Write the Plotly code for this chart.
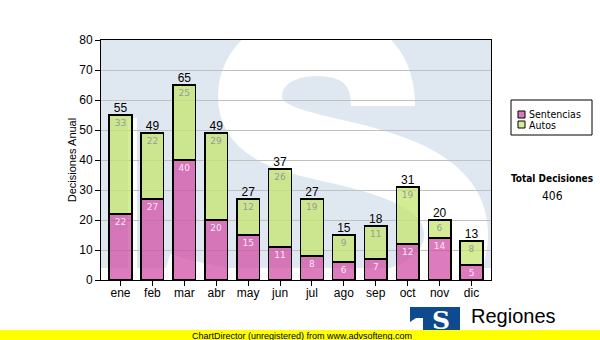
import plotly.graph_objects as go

# Monthly decisions, split by type
meses = ["ene", "feb", "mar", "abr", "may", "jun", "jul", "ago", "sep", "oct", "nov", "dic"]
sentencias = [22, 27, 40, 20, 15, 11, 8, 6, 7, 12, 14, 5]
autos = [33, 22, 25, 29, 12, 26, 19, 9, 11, 19, 6, 8]
totales = [55, 49, 65, 49, 27, 37, 27, 15, 18, 31, 20, 13]
total_decisiones = 406

W, H = 600, 340
L, R, T, B = 101, 491, 40, 280  # plot area edges in pixels


def px(x):
    return (x - L) / (R - L)


def py(y):
    return (B - y) / (B - T)


def poly(points):
    return "M " + " L ".join(f"{px(x):.4f},{py(y):.4f}" for x, y in points) + " Z"


PINK = "rgba(208,74,162,0.72)"
GREEN = "rgba(196,228,105,0.72)"
WATER = "#dfe8f1"

fig = go.Figure()

fig.add_trace(go.Bar(
    x=meses, y=sentencias, name="Sentencias",
    marker=dict(color=PINK, line=dict(color="black", width=1.5)),
    text=[str(v) for v in sentencias], textposition="inside",
    insidetextanchor="end", textangle=0, constraintext="none",
    textfont=dict(family="DejaVu Sans", size=9, color="rgba(255,240,250,0.95)"),
    hoverinfo="skip", showlegend=False,
))
fig.add_trace(go.Bar(
    x=meses, y=autos, name="Autos",
    marker=dict(color=GREEN, line=dict(color="black", width=1.5)),
    text=[str(v) for v in autos], textposition="inside",
    insidetextanchor="end", textangle=0, constraintext="none",
    textfont=dict(family="DejaVu Sans", size=9, color="#9a9a9a"),
    hoverinfo="skip", showlegend=False,
))
fig.add_trace(go.Scatter(
    x=meses, y=totales, mode="text", text=[str(v) for v in totales],
    textposition="top center",
    textfont=dict(family="Liberation Sans, Arial", size=12, color="black"),
    hoverinfo="skip", showlegend=False, cliponaxis=False,
))

shapes = []
# faint logo watermark in the plot background
for (x0, y0, x1, y1) in [(101, 40, 491, 118), (101, 118, 128, 268), (137, 118, 491, 268)]:
    shapes.append(dict(type="rect", xref="paper", yref="paper", layer="below",
                       x0=px(x0), x1=px(x1), y0=py(y1), y1=py(y0),
                       fillcolor=WATER, line=dict(width=0)))

s_pts = [
    ("M", [(383, 106)]),
    ("C", [(383, 62), (355, 44), (316, 44)]),
    ("C", [(275, 44), (250, 68), (250, 96)]),
    ("C", [(250, 130), (285, 140), (330, 150)]),
    ("C", [(400, 165), (456, 185), (456, 235)]),
    ("C", [(456, 285), (400, 308), (330, 308)]),
    ("C", [(260, 308), (200, 298), (160, 284)]),
]
s_path = " ".join(cmd + " " + " ".join(f"{px(x):.4f},{py(y):.4f}" for x, y in pts)
                  for cmd, pts in s_pts)
shapes.append(dict(type="path", xref="paper", yref="paper", layer="below",
                   path=s_path, line=dict(color="white", width=64)))

# legend box
shapes.append(dict(type="rect", xref="paper", yref="paper",
                   x0=px(511), x1=px(592), y0=py(135), y1=py(100),
                   fillcolor="white", line=dict(color="black", width=1)))
for (y0, col) in [(111, "#dc78be"), (121, "#d7eb96")]:
    shapes.append(dict(type="rect", xref="paper", yref="paper",
                       x0=px(518), x1=px(525), y0=py(y0 + 7), y1=py(y0),
                       fillcolor=col, line=dict(color="black", width=1)))

# footer logo: "T" bar and stem joined to the "S" block
shapes.append(dict(type="path", xref="paper", yref="paper", layer="above",
                   path=poly([(410, 307), (460, 307), (460, 340), (423, 340),
                              (423, 318), (416, 318), (410, 322)]),
                   fillcolor="#0e4a8e", line=dict(width=0)))
# yellow footer band
shapes.append(dict(type="rect", xref="paper", yref="paper", layer="above",
                   x0=px(0), x1=px(600), y0=py(340), y1=py(330),
                   fillcolor="#ffff00", line=dict(width=0)))

legend_font = "DejaVu Sans Condensed, DejaVu Sans, sans-serif"
annotations = [
    dict(x=px(527), y=py(114), xref="paper", yref="paper", text="Sentencias",
         showarrow=False, xanchor="left", yanchor="middle",
         font=dict(family=legend_font, size=10.5, color="black")),
    dict(x=px(527), y=py(125), xref="paper", yref="paper", text="Autos",
         showarrow=False, xanchor="left", yanchor="middle",
         font=dict(family=legend_font, size=10.5, color="black")),
    dict(x=px(551.5), y=py(178), xref="paper", yref="paper", text="<b>Total Decisiones</b>",
         showarrow=False, xanchor="center", yanchor="middle",
         font=dict(family=legend_font, size=10, color="black")),
    dict(x=px(552), y=py(196), xref="paper", yref="paper", text=str(total_decisiones),
         showarrow=False, xanchor="center", yanchor="middle",
         font=dict(family=legend_font, size=12, color="black")),
    dict(x=px(441), y=py(320), xref="paper", yref="paper", text="<b>S</b>",
         showarrow=False, xanchor="center", yanchor="middle",
         font=dict(family="DejaVu Serif", size=25, color="white")),
    dict(x=px(469), y=py(316), xref="paper", yref="paper", text="Regiones",
         showarrow=False, xanchor="left", yanchor="middle",
         font=dict(family="Liberation Sans, Arial", size=20, color="black")),
    dict(x=px(190), y=py(335.5), xref="paper", yref="paper",
         text="ChartDirector (unregistered) from www.advsofteng.com",
         showarrow=False, xanchor="left", yanchor="middle",
         font=dict(family="Liberation Sans, Arial", size=9, color="black")),
]

fig.update_layout(
    width=W, height=H,
    margin=dict(l=L, r=W - R, t=T, b=H - B, pad=0),
    barmode="stack", bargap=0.29,
    paper_bgcolor="white", plot_bgcolor="white",
    font=dict(family="Liberation Sans, Arial", size=12, color="black"),
    shapes=shapes, annotations=annotations,
)
fig.update_xaxes(
    type="category", showgrid=False, showline=True, linecolor="black", linewidth=1,
    mirror=True, ticks="outside", ticklen=5, tickcolor="black", ticklabelstandoff=-3,
    tickfont=dict(family="Liberation Sans, Arial", size=12, color="black"),
)
fig.update_yaxes(
    range=[0, 80], dtick=10, showgrid=True, gridcolor="#c0c0c0", gridwidth=1,
    showline=True, linecolor="black", linewidth=1, mirror=True,
    ticks="outside", ticklen=5, tickcolor="black", zeroline=False,
    tickfont=dict(family="Liberation Sans, Arial", size=12, color="black"),
    title=dict(text="Decisiones Anual", standoff=0,
               font=dict(family="Liberation Sans, Arial", size=11, color="black")),
)

fig.write_html("out.html")
